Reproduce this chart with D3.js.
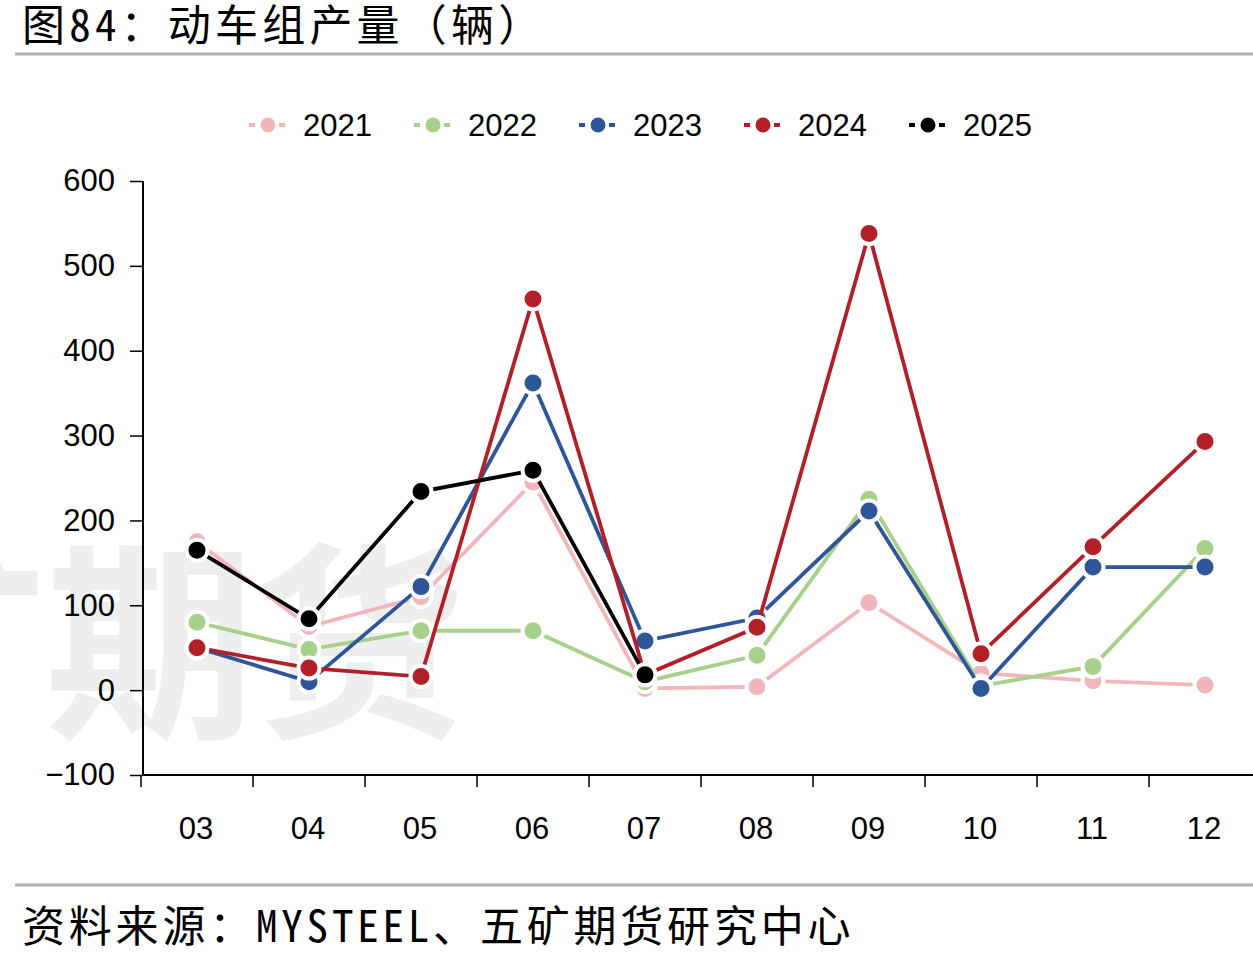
<!DOCTYPE html>
<html>
<head>
<meta charset="utf-8">
<script src="https://cdn.jsdelivr.net/npm/d3@7"></script>
<style>
  body { margin: 0; background: #fff; }
  svg { display: block; }
</style>
</head>
<body>
<svg id="chart"></svg>
<script>
// months on the x axis
const months = ['03', '04', '05', '06', '07', '08', '09', '10', '11', '12'];

// production per year (vehicles)
const s2021 = [175, 75, 110, 245, 2, 4, 103, 20, 11, 6];
const s2022 = [80, 48, 70, 70, 10, 41, 225, 5, 28, 167];
const s2023 = [50, 10, 122, 362, 58, 85, 211, 2, 145, 145];
const s2024 = [50, 26, 16, 461, 18, 74, 538, 43, 169, 293];
const s2025 = [165, 84, 234, 259, 18];

const seriesNames = ['2021', '2022', '2023', '2024', '2025'];
const seriesColors = ['#f2b5b9', '#a7d18b', '#2d5597', '#b21f28', '#000000'];
const yTicks = [-100, 0, 100, 200, 300, 400, 500, 600];

const width = 1253, height = 962;
const svg = d3.select('#chart').attr('width', width).attr('height', height);

const cjk = '"Noto Sans Mono CJK SC", "Noto Sans CJK SC", "Noto Sans", sans-serif';
const latin = '"Liberation Sans", Arial, sans-serif';

// title and rules
svg.append('text')
    .attr('x', 22).attr('y', 41)
    .attr('font-family', cjk).attr('font-size', 43)
    .attr('letter-spacing', 4.2)
    .text('图84：动车组产量（辆）');
svg.append('line').attr('x1', 15).attr('x2', width).attr('y1', 54).attr('y2', 54)
    .attr('stroke', '#b0b0b0').attr('stroke-width', 3);
svg.append('line').attr('x1', 15).attr('x2', width).attr('y1', 885).attr('y2', 885)
    .attr('stroke', '#b0b0b0').attr('stroke-width', 3);
svg.append('text')
    .attr('x', 22).attr('y', 942)
    .attr('font-family', cjk).attr('font-size', 43)
    .attr('letter-spacing', 3.8)
    .text('资料来源：MYSTEEL、五矿期货研究中心');

// faint watermark behind the plot
svg.append('text')
    .attr('x', -165).attr('y', 722)
    .attr('font-family', '"Noto Sans CJK SC", sans-serif').attr('font-size', 210).attr('font-weight', 700)
    .attr('fill', '#eeeeee')
    .text('矿期货');

// scales
const x = d3.scaleBand().domain(months).range([141, 1261]);
const y = d3.scaleLinear().domain([-100, 600]).range([775, 181]);

// y axis
const yAxis = svg.append('g')
    .attr('transform', 'translate(143,0)')
    .call(d3.axisLeft(y).tickValues(yTicks).tickSize(13).tickPadding(15)
        .tickFormat(d => d < 0 ? '\u2212' + Math.abs(d) : d));
yAxis.selectAll('text').attr('font-family', latin).attr('font-size', 31).attr('fill', '#000');
yAxis.selectAll('line').attr('stroke', '#000').attr('stroke-width', 1.5);
yAxis.select('.domain').attr('stroke', '#000').attr('stroke-width', 2)
    .attr('d', `M0,${y(-100)}V${y(600)}`);

// x axis: ticks sit on band edges, labels centred in bands
const xg = svg.append('g').attr('transform', `translate(0,${y(-100)})`);
xg.append('line').attr('x1', 142).attr('x2', width).attr('stroke', '#000').attr('stroke-width', 2);
xg.selectAll('.edge')
    .data(months)
    .join('line')
    .attr('class', 'edge')
    .attr('x1', d => x(d)).attr('x2', d => x(d))
    .attr('y1', 0).attr('y2', 12)
    .attr('stroke', '#000').attr('stroke-width', 1.5);
xg.selectAll('.lbl')
    .data(months)
    .join('text')
    .attr('class', 'lbl')
    .attr('x', d => x(d) + x.bandwidth() / 2 - 1)
    .attr('y', 64)
    .attr('text-anchor', 'middle')
    .attr('font-family', latin).attr('font-size', 31)
    .text(d => d);

// lines and markers, one series at a time
const seriesData = [s2021, s2022, s2023, s2024, s2025];
const line = d3.line()
    .x((d, i) => x(months[i]) + x.bandwidth() / 2)
    .y(d => y(d));

seriesData.forEach((vals, k) => {
  const g = svg.append('g');
  g.append('path')
      .datum(vals)
      .attr('d', line)
      .attr('fill', 'none')
      .attr('stroke', seriesColors[k])
      .attr('stroke-width', 3.8);
  g.selectAll('circle')
      .data(vals)
      .join('circle')
      .attr('cx', (d, i) => x(months[i]) + x.bandwidth() / 2)
      .attr('cy', d => y(d))
      .attr('r', 10.5)
      .attr('fill', seriesColors[k])
      .attr('stroke', '#fff')
      .attr('stroke-width', 4);
});

// legend
const legend = svg.append('g').attr('transform', 'translate(0,125)');
const items = legend.selectAll('g')
    .data(seriesNames)
    .join('g')
    .attr('transform', (d, i) => `translate(${268 + i * 165},0)`);
items.append('line')
    .attr('x1', -19).attr('x2', 19)
    .attr('stroke', (d, i) => seriesColors[i])
    .attr('stroke-width', 4)
    .attr('stroke-dasharray', '6,4');
items.append('circle')
    .attr('r', 9)
    .attr('fill', (d, i) => seriesColors[i])
    .attr('stroke', '#fff')
    .attr('stroke-width', 3);
items.append('text')
    .attr('x', 35).attr('y', 11)
    .attr('font-family', latin).attr('font-size', 31)
    .text(d => d);
</script>
</body>
</html>
